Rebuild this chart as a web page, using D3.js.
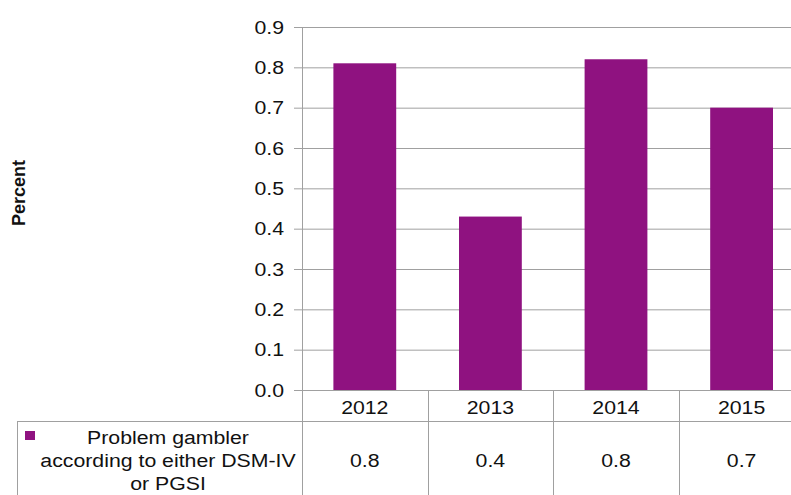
<!DOCTYPE html>
<html>
<head>
<meta charset="utf-8">
<script src="https://cdn.jsdelivr.net/npm/d3@7"></script>
<style>
  body { margin: 0; background: #fff; }
  svg { display: block; font-family: "Liberation Sans", Arial, sans-serif; }
</style>
</head>
<body>
<div id="chart"></div>
<script>
const years = ["2012", "2013", "2014", "2015"];
const values = [0.81, 0.43, 0.82, 0.70];
const tableValues = ["0.8", "0.4", "0.8", "0.7"];
const yTicks = [0, 0.1, 0.2, 0.3, 0.4, 0.5, 0.6, 0.7, 0.8, 0.9];
const seriesName = ["Problem gambler", "according to either DSM-IV", "or PGSI"];

const W = 791, H = 495;
const PLOT = { LEFT: 302, TOP: 27, BOTTOM: 390, RIGHT: 804.4 };
const TABLE = { LEFT: 17, ROW1: 421, BOTTOM: 520 };
const BAR_COLOR = "#8f1280";
const GRID = "#a0a0a0";
const FONT = 19;
const SX = 1.12; // text in the source is a bit wider than normal

const svg = d3.select("#chart")
  .append("svg")
  .attr("width", W)
  .attr("height", H);

// places a horizontally stretched text
function stretched(sel, fx, fy) {
  return sel.attr("transform", (d, i) => `translate(${fx(d, i)},${fy(d, i)}) scale(${SX},1)`);
}

// scales
const x = d3.scaleBand()
  .domain(years)
  .range([PLOT.LEFT, PLOT.RIGHT])
  .paddingInner(0.5)
  .paddingOuter(0.25);

const xCell = d3.scaleBand()
  .domain(years)
  .range([PLOT.LEFT, PLOT.RIGHT]);

const y = d3.scaleLinear()
  .domain([0, 0.9])
  .range([PLOT.BOTTOM, PLOT.TOP]);

// gridlines
svg.append("g")
  .attr("transform", `translate(${PLOT.LEFT},0)`)
  .call(d3.axisLeft(y).tickValues(yTicks).tickSize(-(PLOT.RIGHT - PLOT.LEFT)).tickFormat(""))
  .call(g => g.select(".domain").remove())
  .call(g => g.selectAll("line").attr("stroke", GRID));

// y axis with labels
const yAxis = svg.append("g")
  .attr("transform", `translate(${PLOT.LEFT},0)`)
  .call(d3.axisLeft(y).tickValues(yTicks).tickSize(8).tickSizeOuter(0).tickFormat(d3.format(".1f")));
yAxis.select(".domain").remove();
yAxis.selectAll("line").attr("stroke", GRID);
yAxis.selectAll("text")
  .attr("x", null)
  .attr("transform", `translate(-18,0) scale(${SX},1)`)
  .attr("font-size", FONT)
  .attr("fill", "#111")
  .style("font-family", "Liberation Sans, Arial, sans-serif");

// bars
svg.append("g")
  .selectAll("rect")
  .data(values)
  .enter()
  .append("rect")
  .attr("x", (d, i) => x(years[i]))
  .attr("width", x.bandwidth())
  .attr("y", d => y(d))
  .attr("height", d => y(0) - y(d))
  .attr("fill", BAR_COLOR);

// y axis title
svg.append("text")
  .attr("transform", `translate(25, 193) rotate(-90)`)
  .attr("text-anchor", "middle")
  .attr("font-size", 18)
  .attr("font-weight", "bold")
  .attr("fill", "#111")
  .text("Percent");

// data table lines
const lines = svg.append("g").attr("stroke", GRID).attr("stroke-width", 1);
lines.append("line")
  .attr("x1", PLOT.LEFT + 0.5).attr("x2", PLOT.LEFT + 0.5)
  .attr("y1", PLOT.TOP).attr("y2", TABLE.BOTTOM);
years.forEach(yr => {
  const xr = Math.round(xCell(yr) + xCell.bandwidth()) + 0.5;
  lines.append("line")
    .attr("x1", xr).attr("x2", xr)
    .attr("y1", PLOT.BOTTOM).attr("y2", TABLE.BOTTOM);
});
lines.append("line")
  .attr("x1", TABLE.LEFT).attr("x2", PLOT.RIGHT)
  .attr("y1", TABLE.ROW1 + 0.5).attr("y2", TABLE.ROW1 + 0.5);
lines.append("line")
  .attr("x1", TABLE.LEFT + 0.5).attr("x2", TABLE.LEFT + 0.5)
  .attr("y1", TABLE.ROW1).attr("y2", TABLE.BOTTOM);

// category labels
svg.append("g")
  .selectAll("text")
  .data(years)
  .enter()
  .append("text")
  .call(stretched, d => xCell(d) + xCell.bandwidth() / 2, () => 414)
  .attr("text-anchor", "middle")
  .attr("font-size", FONT)
  .attr("fill", "#111")
  .text(d => d);

// table values
svg.append("g")
  .selectAll("text")
  .data(tableValues)
  .enter()
  .append("text")
  .call(stretched, (d, i) => xCell(years[i]) + xCell.bandwidth() / 2, () => 467)
  .attr("text-anchor", "middle")
  .attr("font-size", FONT)
  .attr("fill", "#111")
  .text(d => d);

// legend key + series name
svg.append("rect")
  .attr("x", 25).attr("y", 431)
  .attr("width", 10).attr("height", 9)
  .attr("fill", BAR_COLOR);

svg.append("g")
  .selectAll("text")
  .data(seriesName)
  .enter()
  .append("text")
  .call(stretched, () => 168, (d, i) => 444 + i * 23)
  .attr("text-anchor", "middle")
  .attr("font-size", FONT)
  .attr("fill", "#111")
  .text(d => d);
</script>
</body>
</html>
